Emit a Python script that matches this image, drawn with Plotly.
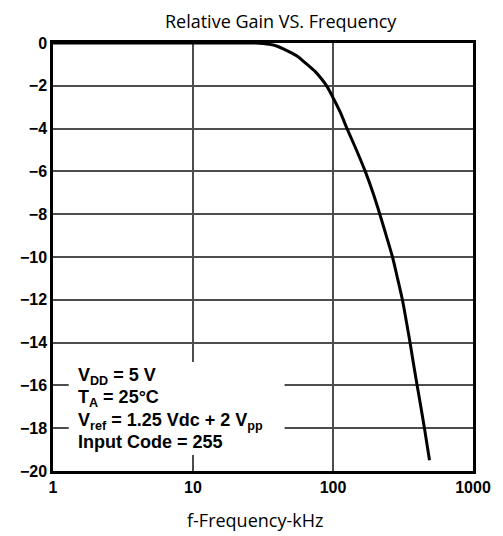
import plotly.graph_objects as go

# Data
freq_khz = [1, 5, 10, 20, 28, 35, 40, 46, 55, 64, 75, 84, 91, 100, 112, 126, 147, 170, 193, 216, 240, 266, 289, 313, 334, 355, 376, 399, 424, 450, 489]
gain_db = [0, 0, 0, 0, 0, -0.06, -0.15, -0.33, -0.6, -0.95, -1.35, -1.73, -2.05, -2.55, -3.2, -4.0, -5.0, -6.0, -7.0, -8.0, -9.0, -10.0, -11.0, -12.0, -13.0, -14.0, -15.0, -16.0, -17.0, -18.0, -19.5]

x_tickvals = [1, 10, 100, 1000]
x_ticktext = ["1", "10", "100", "1000"]
y_tickvals = list(range(-20, 1, 2))

title_text = "Relative Gain VS. Frequency"
xaxis_title = "f-Frequency-kHz"
note_lines = [
    "V<sub>DD</sub> = 5 V",
    "T<sub>A</sub> = 25°C",
    "V<sub>ref</sub> = 1.25 Vdc + 2 V<sub>pp</sub>",
    "Input Code = 255",
]

fig = go.Figure()
fig.add_trace(go.Scatter(
    x=freq_khz, y=gain_db, mode="lines",
    line=dict(color="black", width=3, shape="spline", smoothing=1.0),
    showlegend=False, hoverinfo="skip",
))

# page has an 8px body margin; compensate so the plot lands where the reference has it
OFF = 8
W, H = 503 - OFF, 536 - OFF
L, R, T, B = 52 - OFF, 23, 43 - OFF, 65

axis_common = dict(
    showline=True, linecolor="black", linewidth=2.5, mirror=True,
    showgrid=True, gridcolor="#4d4d4d", gridwidth=1.5,
    zeroline=False, ticks="",
    tickfont=dict(family="Liberation Sans, Arial, sans-serif", size=16, color="black", weight="bold"),
)

plot_w = W - L - R
plot_h = H - T - B

def px_x(px):
    return (px - 52) / plot_w

def px_y(py):
    return (471 - py) / plot_h

fig.update_layout(
    width=W, height=H,
    margin=dict(l=L, r=R, t=T, b=B),
    paper_bgcolor="white", plot_bgcolor="white",
    title=dict(text=title_text, x=px_x(284), xref="paper", xanchor="center",
               y=1 - (22 - OFF) / H, yanchor="middle",
               font=dict(family="Open Sans, sans-serif", size=18, color="black")),
    xaxis=dict(type="log", range=[0, 3], tickvals=x_tickvals, ticktext=x_ticktext, **axis_common),
    yaxis=dict(range=[-20, 0], tickvals=y_tickvals, **axis_common),
)

# white box behind the conditions text (covers grid lines)
fig.add_shape(type="rect", xref="paper", yref="paper",
              x0=px_x(68), x1=px_x(288), y0=px_y(455), y1=px_y(362),
              fillcolor="white", line=dict(width=0), layer="above")

line_centers = [376, 398, 421, 441.5]
for txt, cy in zip(note_lines, line_centers):
    fig.add_annotation(text=txt, xref="paper", yref="paper", x=px_x(75), y=px_y(cy),
                       xanchor="left", yanchor="middle", showarrow=False,
                       font=dict(family="Liberation Sans, Arial, sans-serif", size=18, color="black", weight="bold"))

fig.add_annotation(text=xaxis_title, xref="paper", yref="paper", x=px_x(258), y=px_y(520),
                   xanchor="center", yanchor="middle", showarrow=False,
                   font=dict(family="Open Sans, sans-serif", size=18, color="black"))

fig.write_html("out.html")
